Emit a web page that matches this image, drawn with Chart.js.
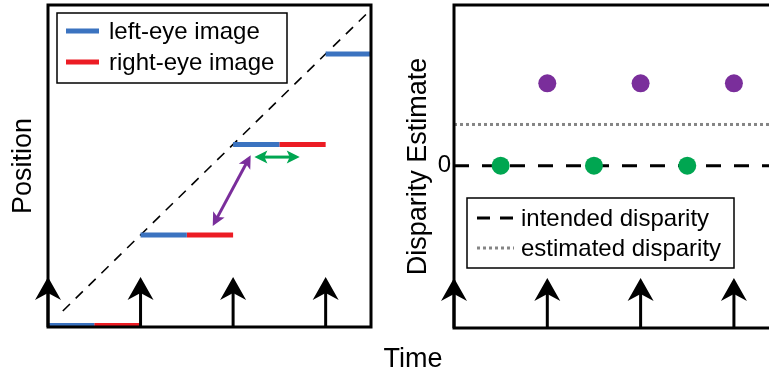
<!DOCTYPE html>
<html>
<head>
<meta charset="utf-8">
<script src="https://cdn.jsdelivr.net/npm/chart.js@4.4.1/dist/chart.umd.min.js"></script>
<style>
  html, body { margin: 0; padding: 0; background: #fff; }
  #wrap { position: relative; width: 769px; height: 375px; overflow: hidden; }
  #posBox { position: absolute; left: 0; top: 0; width: 390px; height: 375px; }
  #dispBox { position: absolute; left: 390px; top: 0; width: 379px; height: 375px; }
  #timeLabel {
    position: absolute; left: 413px; top: 345px; transform: translateX(-50%);
    font: 27px/27px 'Liberation Sans', Arial, sans-serif; color: #000;
  }
</style>
</head>
<body>
<div id="wrap">
  <div id="posBox"><canvas id="posChart"></canvas></div>
  <div id="dispBox"><canvas id="dispChart"></canvas></div>
  <div id="timeLabel">Time</div>
</div>
<script>
// --- DATA ---
const frameTimes = [0, 1, 2, 3];        // display flashes (black arrows)
const imagePositions = [0, 1, 2, 3];    // position of the image at each flash
const eyeDuration = 0.5;                // each eye's image lasts half a frame
const motionPath = [[0.16, 0.16], [3.5, 3.5]];
const purpleArrow = [[1.78, 1.1], [2.19, 1.88]];
const greenArrow = [[2.23, 1.86], [2.72, 1.86]];

const greenTimes = [0.5, 1.5, 2.5];
const greenEstimates = [0, 0, 0];
const purpleTimes = [1, 2, 3];
const purpleEstimates = [1, 1, 1];
const timeSpan = [0, 3.5];
const intendedDisparity = 0;
const estimatedDisparity = 0.5;
const yTicks = [0];

// --- STYLE ---
const BLUE = '#3b73c0';
const RED = '#ec1c24';
const PURPLE = '#7a2e9b';
const GREEN = '#00a651';
const GRAY = '#858585';
const FONT = "'Liberation Sans', Arial, Helvetica, sans-serif";

function eyeSegments(offset) {
  return frameTimes.flatMap((t, i) => [
    { x: t + offset, y: imagePositions[i] },
    { x: t + offset + eyeDuration, y: imagePositions[i] },
    { x: t + offset + eyeDuration, y: null },
  ]);
}

function drawHead(ctx, x, y, angle, len, half, notch) {
  ctx.save();
  ctx.translate(x, y);
  ctx.rotate(angle);
  ctx.beginPath();
  ctx.moveTo(0, 0);
  ctx.lineTo(-len, half);
  ctx.lineTo(-len + notch, 0);
  ctx.lineTo(-len, -half);
  ctx.closePath();
  ctx.fill();
  ctx.restore();
}

// --- PLUGINS ---
const frameBox = {
  id: 'frameBox',
  afterDraw(chart, args, opts) {
    const { ctx, chartArea: a } = chart;
    ctx.save();
    ctx.strokeStyle = '#000';
    ctx.lineWidth = 3;
    ctx.beginPath();
    if (opts.closed) {
      ctx.rect(a.left, a.top, a.right - a.left, a.bottom - a.top);
    } else {
      ctx.moveTo(a.right + 2, a.top);
      ctx.lineTo(a.left, a.top);
      ctx.lineTo(a.left, a.bottom);
      ctx.lineTo(a.right + 2, a.bottom);
    }
    ctx.stroke();
    ctx.restore();
  }
};

const frameArrows = {
  id: 'frameArrows',
  afterDraw(chart) {
    const { ctx, chartArea: a, scales: { x } } = chart;
    ctx.save();
    ctx.fillStyle = '#000';
    ctx.strokeStyle = '#000';
    ctx.lineWidth = 3;
    frameTimes.forEach((t) => {
      const px = x.getPixelForValue(t);
      const tip = a.bottom - 50;
      ctx.beginPath();
      ctx.moveTo(px, a.bottom);
      ctx.lineTo(px, tip + 14);
      ctx.stroke();
      drawHead(ctx, px, tip, -Math.PI / 2, 23, 13, 7);
    });
    ctx.restore();
  }
};

const doubleArrows = {
  id: 'doubleArrows',
  afterDatasetsDraw(chart, args, opts) {
    const { ctx, scales: { x, y } } = chart;
    (opts.items || []).forEach(({ pts, color }) => {
      const p0 = [x.getPixelForValue(pts[0][0]), y.getPixelForValue(pts[0][1])];
      const p1 = [x.getPixelForValue(pts[1][0]), y.getPixelForValue(pts[1][1])];
      const ang = Math.atan2(p1[1] - p0[1], p1[0] - p0[0]);
      const ux = Math.cos(ang), uy = Math.sin(ang);
      ctx.save();
      ctx.strokeStyle = color;
      ctx.fillStyle = color;
      ctx.lineWidth = 3;
      ctx.beginPath();
      ctx.moveTo(p0[0] + ux * 8, p0[1] + uy * 8);
      ctx.lineTo(p1[0] - ux * 8, p1[1] - uy * 8);
      ctx.stroke();
      drawHead(ctx, p1[0], p1[1], ang, 13, 6.5, 3);
      drawHead(ctx, p0[0], p0[1], ang + Math.PI, 13, 6.5, 3);
      ctx.restore();
    });
  }
};

const boxLegend = {
  id: 'boxLegend',
  afterDraw(chart, args, opts) {
    const { ctx } = chart;
    const items = chart.data.datasets.filter((d) => d.inLegend);
    ctx.save();
    ctx.fillStyle = '#fff';
    ctx.fillRect(opts.left, opts.top, opts.width, opts.height);
    ctx.strokeStyle = '#000';
    ctx.lineWidth = 1.5;
    ctx.strokeRect(opts.left, opts.top, opts.width, opts.height);
    ctx.font = '24px ' + FONT;
    ctx.textBaseline = 'middle';
    ctx.fillStyle = '#000';
    items.forEach((d, i) => {
      const yy = opts.top + opts.firstRow + i * opts.rowGap;
      ctx.save();
      ctx.strokeStyle = d.borderColor;
      ctx.lineWidth = d.borderWidth;
      ctx.setLineDash(d.legendDash || []);
      ctx.beginPath();
      ctx.moveTo(opts.left + opts.sampleStart, yy);
      ctx.lineTo(opts.left + opts.sampleStart + opts.sampleLen, yy);
      ctx.stroke();
      ctx.restore();
      ctx.fillText(d.label, opts.left + opts.textStart, yy + 1);
    });
    ctx.restore();
  }
};

const hiddenX = (max) => ({ type: 'linear', min: 0, max: max, display: false });

// --- LEFT: POSITION ---
new Chart(document.getElementById('posChart'), {
  type: 'line',
  data: {
    datasets: [
      {
        label: 'left-eye image', inLegend: true,
        data: eyeSegments(0),
        borderColor: BLUE, borderWidth: 5, borderCapStyle: 'butt',
        pointRadius: 0, spanGaps: false, clip: 0,
      },
      {
        label: 'right-eye image', inLegend: true,
        data: eyeSegments(eyeDuration),
        borderColor: RED, borderWidth: 5, borderCapStyle: 'butt',
        pointRadius: 0, spanGaps: false, clip: 0,
      },
      {
        label: 'motion',
        data: motionPath.map(([x, y]) => ({ x, y })),
        borderColor: '#000', borderWidth: 1.6, borderDash: [10, 8],
        pointRadius: 0, clip: 0,
      },
    ],
  },
  options: {
    responsive: true,
    maintainAspectRatio: false,
    animation: false,
    layout: { autoPadding: false, padding: { left: 0, top: 5, right: 19, bottom: 48 } },
    scales: {
      x: hiddenX(3.49),
      y: {
        min: -0.017, max: 3.54,
        afterFit(s) { s.width = 48; s.paddingTop = 0; s.paddingBottom = 0; },
        ticks: { display: false },
        grid: { display: false, drawTicks: false },
        border: { display: false },
        title: {
          display: true, text: 'Position', color: '#000',
          font: { family: FONT, size: 27 }, padding: { top: 7, bottom: 0 },
        },
      },
    },
    plugins: {
      legend: { display: false },
      tooltip: { enabled: false },
      frameBox: { closed: true },
      doubleArrows: { items: [{ pts: purpleArrow, color: PURPLE }, { pts: greenArrow, color: GREEN }] },
      boxLegend: { left: 57, top: 13, width: 230, height: 70, firstRow: 18, rowGap: 31, sampleStart: 9, sampleLen: 33, textStart: 52 },
    },
  },
  plugins: [frameBox, frameArrows, doubleArrows, boxLegend],
});

// --- RIGHT: DISPARITY ESTIMATE ---
new Chart(document.getElementById('dispChart'), {
  type: 'line',
  data: {
    datasets: [
      {
        label: 'green',
        data: greenTimes.map((t, i) => ({ x: t, y: greenEstimates[i] })),
        showLine: false, pointRadius: 9, pointHoverRadius: 9,
        pointBackgroundColor: GREEN, pointBorderWidth: 0,
      },
      {
        label: 'purple',
        data: purpleTimes.map((t, i) => ({ x: t, y: purpleEstimates[i] })),
        showLine: false, pointRadius: 9, pointHoverRadius: 9,
        pointBackgroundColor: PURPLE, pointBorderWidth: 0,
      },
      {
        label: 'intended disparity', inLegend: true,
        data: timeSpan.map((t) => ({ x: t, y: intendedDisparity })),
        borderColor: '#000', borderWidth: 3, borderDash: [15, 13], legendDash: [13, 10],
        borderCapStyle: 'butt', pointRadius: 0, clip: 0,
      },
      {
        label: 'estimated disparity', inLegend: true,
        data: timeSpan.map((t) => ({ x: t, y: estimatedDisparity })),
        borderColor: GRAY, borderWidth: 3, borderDash: [3, 3], legendDash: [3, 3],
        borderCapStyle: 'butt', pointRadius: 0, clip: 0,
      },
    ],
  },
  options: {
    responsive: true,
    maintainAspectRatio: false,
    animation: false,
    layout: { autoPadding: false, padding: { left: 0, top: 5, right: 0, bottom: 47 } },
    scales: {
      x: hiddenX(3.376),
      y: {
        min: -1.97, max: 1.95,
        afterBuildTicks(s) { s.ticks = yTicks.map((v) => ({ value: v })); },
        afterFit(s) { s.width = 64; s.paddingTop = 0; s.paddingBottom = 0; },
        ticks: { color: '#000', font: { family: FONT, size: 24 }, padding: 3 },
        grid: { display: false, drawTicks: false },
        border: { display: false },
        title: {
          display: true, text: 'Disparity Estimate', color: '#000',
          font: { family: FONT, size: 27 }, padding: { top: 12, bottom: 0 },
        },
      },
    },
    plugins: {
      legend: { display: false },
      tooltip: { enabled: false },
      frameBox: { closed: false },
      boxLegend: { left: 77, top: 198, width: 267, height: 70, firstRow: 20, rowGap: 30, sampleStart: 10, sampleLen: 37, textStart: 54 },
    },
  },
  plugins: [frameBox, frameArrows, boxLegend],
});
</script>
</body>
</html>
